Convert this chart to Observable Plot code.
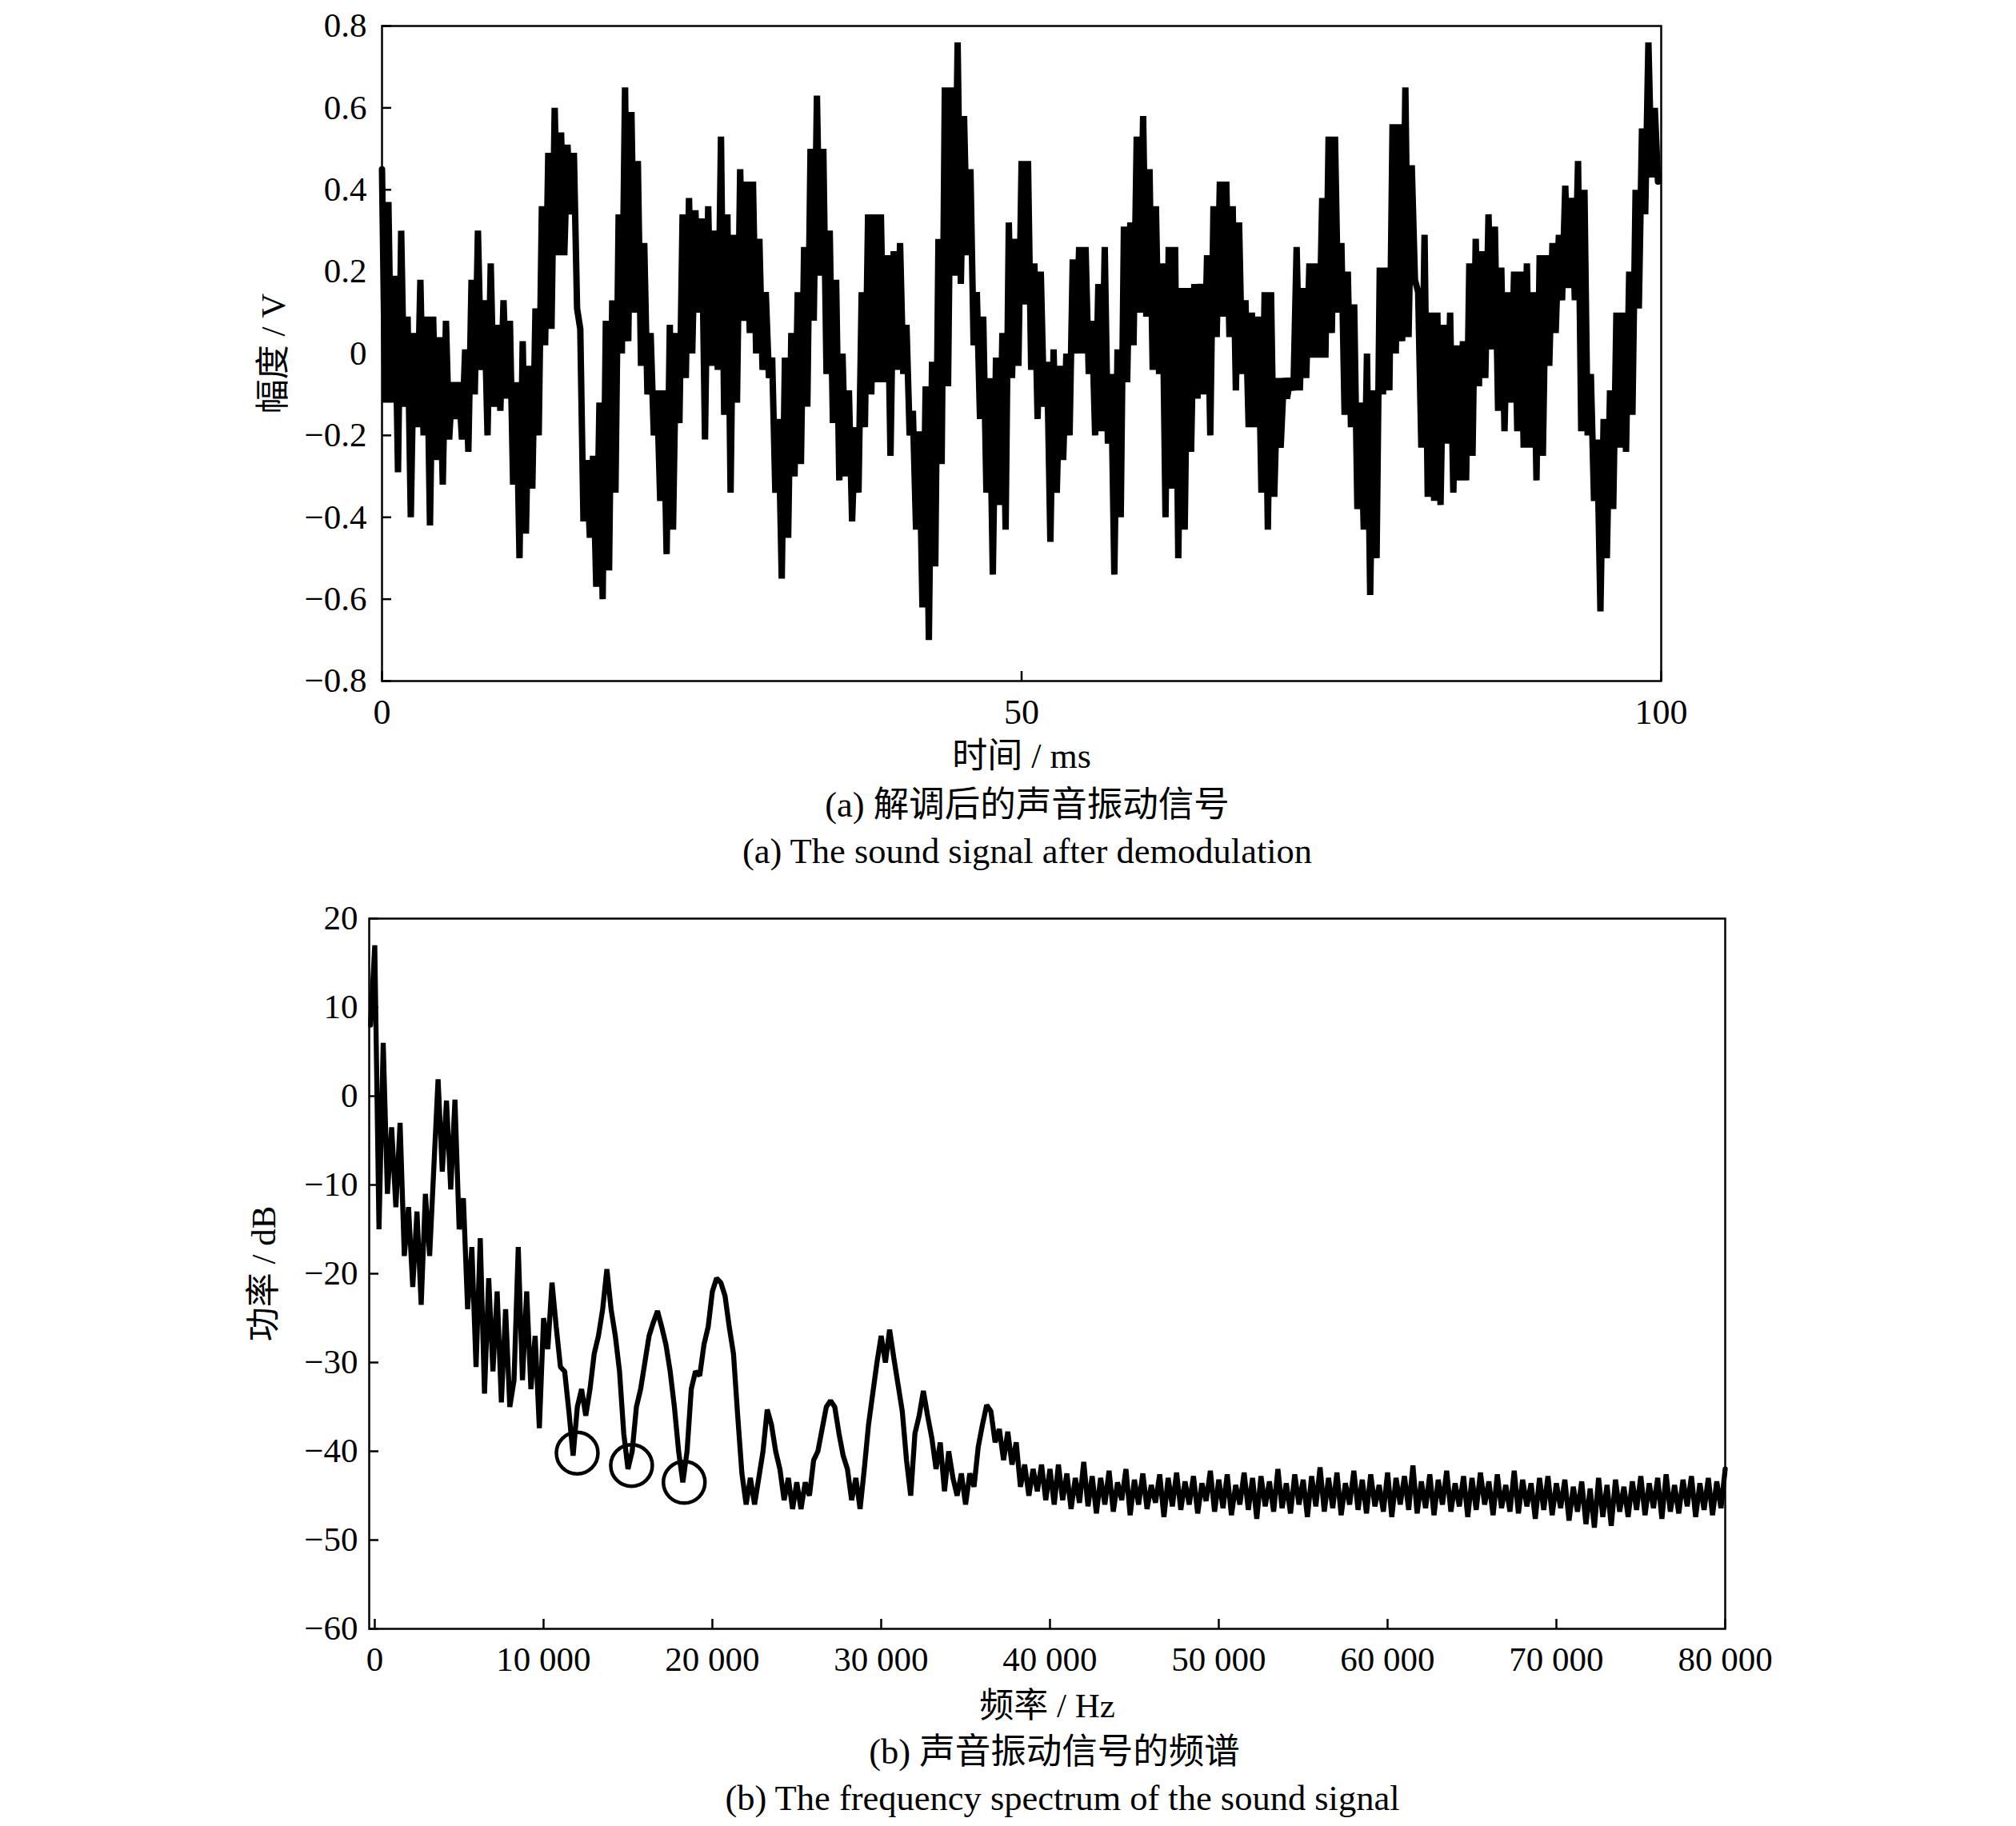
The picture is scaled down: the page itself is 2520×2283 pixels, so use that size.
<!DOCTYPE html>
<html>
<head>
<meta charset="utf-8">
<script src="https://cdn.jsdelivr.net/npm/d3@7"></script>
<script src="https://cdn.jsdelivr.net/npm/@observablehq/plot@0.6"></script>
<style>
  body { margin: 0; background: #fff; }
  #wrap { position: relative; width: 2520px; height: 2283px; background: #fff;
          font-family: "Liberation Serif", "Noto Sans CJK SC", serif; color: #000; }
  .plot { position: absolute; left: 0; }
  .cap { position: absolute; width: 1400px; text-align: center; font-size: 44.5px;
         line-height: 1; white-space: nowrap; }
</style>
</head>
<body>
<div id="wrap">
  <div id="plotA" class="plot" style="top:0px"></div>
  <div class="cap" style="left:584px;top:984px">(a) 解调后的声音振动信号</div>
  <div class="cap" style="left:584px;top:1042px">(a) The sound signal after demodulation</div>
  <div id="plotB" class="plot" style="top:1100px"></div>
  <div class="cap" style="left:618px;top:2168px">(b) 声音振动信号的频谱</div>
  <div class="cap" style="left:628px;top:2226px">(b) The frequency spectrum of the sound signal</div>
</div>
<script>
// ---------- (a) demodulated sound signal, amplitude (V) sampled every 0.25 ms ----------
const sigStep = 0.25;
const sigStartA = 0, sigStartB = 25, sigStartC = 50, sigStartD = 75;
const sigA = [0.45,-0.12, 0.37,-0.12, 0.19,-0.29, 0.30,-0.13, 0.09,-0.40, 0.05,-0.18, 0.18,-0.20, 0.09,-0.42, 0.09,-0.26, 0.04,-0.32,
  0.08,-0.21, -0.07,-0.16, -0.07,-0.21, 0.01,-0.24, 0.18,-0.10, 0.30,-0.04, 0.13,-0.20, 0.22,-0.13, 0.07,-0.14, 0.13,-0.11,
  0.08,-0.32, -0.07,-0.50, 0.03,-0.44, -0.03,-0.33, 0.11,-0.20, 0.36,0.02, 0.49,0.06, 0.60,0.24, 0.54,0.24, 0.51,0.34,
  0.49,0.11, 0.06,-0.41, -0.26,-0.45, -0.25,-0.57, -0.12,-0.60, 0.08,-0.53, 0.13,-0.34, 0.34,0.00, 0.65,0.03, 0.59,0.10,
  0.47,-0.03, 0.27,-0.10, 0.05,-0.20, -0.09,-0.36, -0.09,-0.49, 0.07,-0.43, 0.05,-0.17, 0.34,-0.06, 0.38,0.00, 0.35,0.10];
const sigB = [0.33,-0.21, 0.36,-0.03, 0.30,-0.04, 0.53,-0.15, 0.34,-0.34, 0.29,-0.12, 0.45,0.08, 0.42,0.05, 0.42,0.00, 0.28,-0.04,
  0.15,-0.06, -0.01,-0.34, -0.16,-0.55, -0.01,-0.45, 0.05,-0.30, 0.15,-0.27, 0.26,-0.13, 0.50,0.08, 0.63,0.19, 0.50,-0.05,
  0.30,-0.17, 0.18,-0.31, 0.00,-0.30, -0.09,-0.41, -0.18,-0.34, 0.15,-0.18, 0.34,-0.10, 0.34,-0.07, 0.34,-0.07, 0.24,-0.25,
  0.25,-0.04, 0.27,-0.05, 0.07,-0.20, -0.14,-0.43, -0.19,-0.62, -0.08,-0.70, -0.02,-0.52, 0.28,-0.27, 0.65,-0.08, 0.65,0.19,
  0.76,0.17, 0.58,0.24, 0.45,0.02, 0.15,-0.16, 0.09,-0.34, -0.06,-0.54, -0.01,-0.37, 0.05,-0.43, 0.32,-0.06, 0.28,-0.03];
const sigC = [0.47,0.12, 0.47,-0.04, 0.22,-0.16, 0.20,-0.13, -0.02,-0.46, 0.01,-0.34, -0.03,-0.26, 0.00,-0.20, 0.23,0.00, 0.26,0.00,
  0.26,-0.05, 0.08,-0.20, 0.17,-0.19, 0.26,-0.22, -0.05,-0.54, 0.01,-0.40, 0.31,-0.07, 0.32,0.02, 0.53,0.10, 0.58,0.09,
  0.45,-0.04, 0.36,-0.05, 0.22,-0.40, 0.26,-0.33, 0.26,-0.50, 0.16,-0.43, 0.16,-0.24, 0.17,-0.11, 0.17,-0.10, 0.24,-0.20,
  0.36,0.04, 0.42,0.09, 0.42,0.04, 0.36,-0.09, 0.32,-0.05, 0.13,-0.18, 0.10,-0.18, 0.09,-0.34, 0.15,-0.43, 0.15,-0.35,
  -0.06,-0.23, -0.06,-0.11, -0.06,-0.09, 0.26,-0.09, 0.16,-0.06, 0.22,-0.01, 0.22,-0.01, 0.38,-0.01, 0.53,0.05, 0.53,0.10];
const sigD = [0.27,-0.15, 0.20,-0.18, 0.12,-0.38, -0.12,-0.43, 0.00,-0.59, -0.09,-0.50, 0.21,-0.10, 0.21,-0.09, 0.56,0.00, 0.56,0.03,
  0.65,0.04, 0.46,0.18, 0.15,-0.23, 0.29,-0.35, 0.10,-0.36, 0.10,-0.37, 0.07,-0.22, 0.10,-0.34, 0.02,-0.31, 0.03,-0.31,
  0.22,-0.25, 0.28,-0.08, 0.25,-0.06, 0.34,0.01, 0.31,-0.14, 0.21,-0.19, 0.15,-0.12, 0.20,-0.19, 0.20,-0.23, 0.22,-0.23,
  0.15,-0.31, 0.24,-0.25, 0.24,-0.03, 0.27,0.05, 0.29,0.13, 0.41,0.16, 0.38,0.13, 0.47,-0.19, 0.40,-0.20, -0.05,-0.36,
  -0.21,-0.63, -0.16,-0.50, -0.09,-0.38, 0.10,-0.23, 0.10,-0.24, 0.20,-0.15, 0.40,0.11, 0.55,0.34, 0.76,0.43, 0.60,0.42];
const xTicksA = [0, 50, 100];
const yTicksA = [-0.8, -0.6, -0.4, -0.2, 0, 0.2, 0.4, 0.6, 0.8];
const yTickLabelsA = ["\u22120.8", "\u22120.6", "\u22120.4", "\u22120.2", "0", "0.2", "0.4", "0.6", "0.8"];

// ---------- (b) frequency spectrum, power (dB) sampled every 250 Hz ----------
const specStep = 250;
const specStartLow = -250, specStartHigh = 40000;
const specLow = [8, 17, -15, 6, -11, -3.5, -12.5, -3, -18, -12.5,
  -21.5, -13, -23.5, -11, -18, -8, 1.9, -8.5, -0.5, -10.5,
  -0.4, -15, -11.5, -24, -17, -30.5, -16, -33.5, -20.5, -31,
  -22, -34.5, -24, -35, -32, -17, -32, -22, -33, -27,
  -37.4, -25, -28.5, -21, -26, -30.5, -31, -35.5, -40.5, -35,
  -33, -36, -33, -29, -27, -24, -19.5, -24, -27, -31,
  -38, -42, -40, -35, -33, -30, -27, -25.5, -24.2, -26,
  -28, -31, -35, -40, -43.5, -40, -33, -31, -31.5, -28,
  -26, -22, -20.5, -21, -22.5, -26, -29, -36, -42.5, -46,
  -43, -46, -43, -40, -35.3, -37, -40, -42, -45.5, -43,
  -46.5, -43.5, -46.5, -43.5, -45, -41, -40, -37.5, -35, -34.3,
  -35, -38, -40.5, -42, -45.5, -43, -46.5, -42, -37, -33.5,
  -30, -27, -30, -26.3, -29.5, -32.5, -35.5, -41, -45, -38,
  -36, -33.2, -36, -38.5, -42, -39, -44.5, -40, -43, -45,
  -42.5, -46, -42.5, -44, -39.5, -37, -34.8, -35.5, -39, -37.5,
  -41, -37.8, -41.5, -39, -44, -41.5, -45, -42, -44.5, -41.5,
  -45.5];
const specHigh = [-42, -46, -41.5, -45.5, -42.5, -46.5, -43, -45.8, -41.2, -46.2,
  -42.8, -47, -43, -46, -42.2, -46.8, -43.5, -45.5, -42, -47.2,
  -43.2, -46, -42.5, -46.5, -43.8, -45.8, -42.6, -47.4, -43, -46.2,
  -42.4, -46.6, -43.4, -46, -42.8, -47, -43.6, -45.6, -42.2, -46.8,
  -43.2, -46.4, -42.6, -47.2, -43.8, -46, -42.4, -46.6, -43, -47.6,
  -42.8, -46.2, -43.4, -46.8, -42, -46.4, -43.6, -47, -42.6, -46,
  -43.2, -47.4, -42.8, -46.2, -41.8, -46.8, -43, -46.4, -42.4, -47.2,
  -43.6, -46, -42.2, -46.6, -43.2, -47, -42.6, -46.2, -43.8, -46.8,
  -42.4, -47.4, -43, -46, -42.8, -46.6, -41.6, -47, -43.4, -46.4,
  -42.6, -47.2, -43.2, -46, -42.2, -46.8, -43.6, -46.2, -42.8, -47.4,
  -43, -46.6, -42.4, -46, -43.4, -47.2, -42.6, -46.4, -43.8, -46.8,
  -42.2, -47, -43.2, -46.2, -43.6, -47.6, -43, -46.6, -42.8, -47.2,
  -43.6, -46.4, -43.2, -47.8, -44, -46.8, -43.4, -48.2, -44.2, -48.6,
  -43, -47.4, -43.8, -48.4, -43.2, -46.8, -44, -47.4, -43.4, -46.6,
  -42.8, -47.2, -43.6, -46.4, -43, -47.6, -42.6, -46.8, -43.8, -47,
  -43.2, -46.2, -42.8, -47.4, -43.6, -46.6, -43, -47.2, -43.4, -46.4,
  -42];
// marked notches (circled)
const notchFreq = [11990, 15210, 18330];
const notchDb = [-40.2, -41.6, -43.5];
const xTicksB = [0, 10000, 20000, 30000, 40000, 50000, 60000, 70000, 80000];
const xTickLabelsB = ["0", "10 000", "20 000", "30 000", "40 000", "50 000", "60 000", "70 000", "80 000"];
const yTicksB = [-60, -50, -40, -30, -20, -10, 0, 10, 20];

// ---------- build tables ----------
const sigData = [[sigStartA, sigA], [sigStartB, sigB], [sigStartC, sigC], [sigStartD, sigD]]
  .flatMap(([t0, vals]) => vals.map((v, i) => ({t: t0 + i * sigStep, v})));
const specData = [[specStartLow, specLow], [specStartHigh, specHigh]]
  .flatMap(([f0, vals]) => vals.map((p, i) => ({f: f0 + i * specStep, p})));
const notches = notchFreq.map((f, i) => ({f, p: notchDb[i]}));

const font = '"Liberation Serif", "Noto Sans CJK SC", serif';
const style = {fontFamily: font, fontSize: "43px", background: "white", color: "black", overflow: "visible"};

const plotA = Plot.plot({
  width: 2520, height: 975,
  marginLeft: 477, marginRight: 444, marginTop: 32, marginBottom: 124,
  style,
  x: {domain: [0, 100]},
  y: {domain: [-0.8, 0.8]},
  marks: [
    Plot.line(sigData, {x: "t", y: "v", stroke: "black", strokeWidth: 8, strokeLinejoin: "bevel"}),
    Plot.frame({stroke: "black", strokeWidth: 2.5}),
    Plot.axisX({ticks: xTicksA, tickSize: -12, tickPadding: 34, strokeWidth: 2.5,
      label: "时间 / ms", labelAnchor: "center", labelOffset: 108, labelArrow: "none", fontSize: 44}),
    Plot.axisY({ticks: yTicksA, tickFormat: (d) => yTickLabelsA[yTicksA.indexOf(d)], tickSize: -12, tickPadding: 31, strokeWidth: 2.5,
      label: "幅度 / V", labelAnchor: "center", labelOffset: 152, labelArrow: "none", fontSize: 43})
  ]
});
document.getElementById("plotA").append(plotA);

const plotB = Plot.plot({
  width: 2520, height: 1060,
  marginLeft: 461, marginRight: 364, marginTop: 48, marginBottom: 124,
  style,
  x: {domain: [-330, 80000]},
  y: {domain: [-60, 20]},
  marks: [
    Plot.line(specData, {x: "f", y: "p", stroke: "black", strokeWidth: 6.3, strokeLinejoin: "bevel"}),
    Plot.dot(notches, {x: "f", y: "p", r: 26, stroke: "black", strokeWidth: 4.5, fill: "none"}),
    Plot.frame({stroke: "black", strokeWidth: 2.5}),
    Plot.axisX({ticks: xTicksB, tickFormat: (d) => xTickLabelsB[xTicksB.indexOf(d)], tickSize: -12, tickPadding: 34, strokeWidth: 2.5,
      label: "频率 / Hz", labelAnchor: "center", labelOffset: 110, labelArrow: "none", fontSize: 43}),
    Plot.axisY({ticks: yTicksB, tickSize: -12, tickPadding: 26, strokeWidth: 2.5,
      label: "功率 / dB", labelAnchor: "center", labelOffset: 148, labelArrow: "none", fontSize: 43})
  ]
});
document.getElementById("plotB").append(plotB);
</script>
</body>
</html>
